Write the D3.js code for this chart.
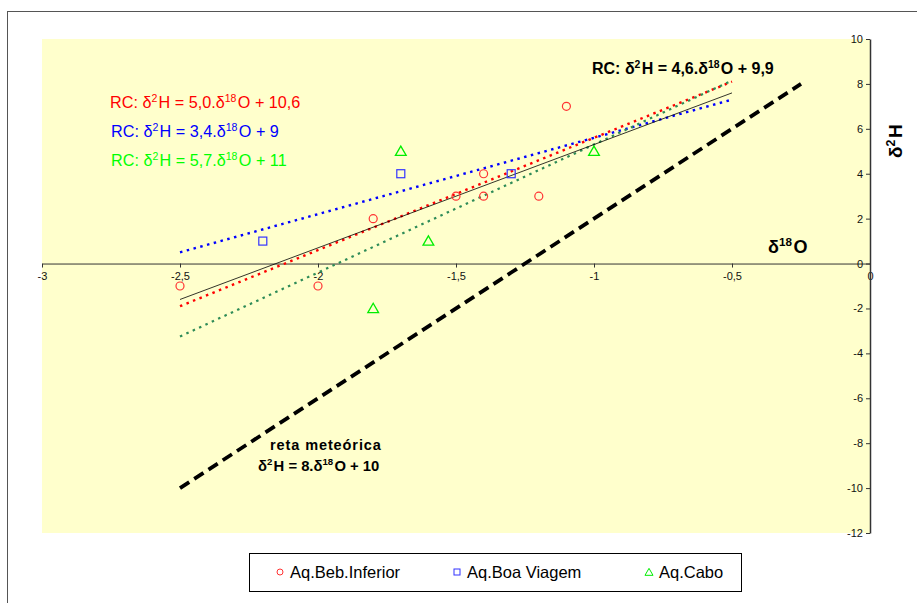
<!DOCTYPE html>
<html>
<head>
<meta charset="utf-8">
<script src="https://cdn.jsdelivr.net/npm/d3@7"></script>
<style>
  body { margin: 0; background: #fff; }
  text { font-family: "Liberation Sans", Arial, sans-serif; }
</style>
</head>
<body>
<div id="chart"></div>
<script>
// data
const beb_x = [-2.5, -2, -1.8, -1.5, -1.4, -1.4, -1.2, -1.1];
const beb_y = [-1, -1, 2, 3, 4, 3, 3, 7];
const boa_x = [-2.2, -1.7, -1.3];
const boa_y = [1, 4, 4];
const cabo_x = [-1.8, -1.7, -1.6, -1];
const cabo_y = [-2, 5, 1, 5];

// trend lines: slope, intercept
const trend_names = ["beb", "boa", "cabo", "all"];
const trend_slopes = [5.0, 3.4, 5.7, 4.6];
const trend_intercepts = [10.6, 9, 11, 9.9];
const trend_range = [-2.5, -0.5];

// meteoric water line
const meteoric_x = [-2.5, -1.8, -1.3, -0.25];
const meteoric_slope = 8;
const meteoric_intercept = 10;

const x_ticks = [-3, -2.5, -2, -1.5, -1, -0.5, 0];
const y_ticks = [10, 8, 6, 4, 2, 0, -2, -4, -6, -8, -10, -12];

const width = 917, height = 603;
const plot = { left: 42, right: 870, top: 39, bottom: 533 };

const svg = d3.select("#chart").append("svg")
    .attr("width", width)
    .attr("height", height);

// outer frame
svg.append("rect")
    .attr("x", 7.5).attr("y", 11.5)
    .attr("width", 920).attr("height", 600)
    .attr("fill", "none")
    .attr("stroke", "#555")
    .attr("stroke-width", 1);

// plot background
svg.append("rect")
    .attr("x", plot.left).attr("y", plot.top)
    .attr("width", plot.right - plot.left)
    .attr("height", plot.bottom - plot.top)
    .attr("fill", "#ffffcc");

const x = d3.scaleLinear().domain([-3, 0]).range([plot.left, plot.right]);
const y = d3.scaleLinear().domain([-12, 10]).range([plot.bottom, plot.top]);

const fmt = d => String(d).replace(".", ",");

// x axis at y = 0
const gx = svg.append("g")
    .attr("transform", "translate(0," + y(0) + ")")
    .call(d3.axisBottom(x).tickValues(x_ticks).tickSize(4).tickSizeOuter(0).tickFormat(fmt));
gx.selectAll("text").attr("font-size", "11px").attr("fill", "#111").attr("dy", "0.9em")
    .style("font-family", "'Liberation Sans', Arial, sans-serif");
gx.select(".domain").attr("stroke", "#333");
gx.selectAll(".tick line").attr("stroke", "#333");

// y axis at x = 0 (right side)
const gy = svg.append("g")
    .attr("transform", "translate(" + x(0) + ",0)")
    .call(d3.axisLeft(y).tickValues(y_ticks).tickSize(4).tickSizeOuter(0).tickFormat(fmt));
gy.selectAll("text").attr("font-size", "11px").attr("fill", "#111")
    .style("font-family", "'Liberation Sans', Arial, sans-serif");
gy.select(".domain").attr("stroke", "#333").attr("stroke-width", 1.5);
gy.selectAll(".tick line").attr("stroke", "#333");

const line = d3.line().x(d => x(d[0])).y(d => y(d[1]));

// meteoric line
svg.append("path")
    .datum(meteoric_x.map(v => [v, meteoric_slope * v + meteoric_intercept]))
    .attr("fill", "none")
    .attr("stroke", "#000")
    .attr("stroke-width", 3.8)
    .attr("stroke-dasharray", "11,6")
    .attr("d", line);

// trend lines
const trend_colors = ["#ff0000", "#0000ff", "#2e8b57", "#000"];
const trend_dash = ["2.5,4.5", "2.5,4.5", "2.5,4.5", null];
const trend_widths = [2.4, 2.4, 2.2, 0.8];
trend_names.forEach((n, i) => {
    svg.append("path")
        .datum(trend_range.map(v => [v, trend_slopes[i] * v + trend_intercepts[i]]))
        .attr("class", "trend-" + n)
        .attr("fill", "none")
        .attr("stroke", trend_colors[i])
        .attr("stroke-width", trend_widths[i])
        .attr("stroke-dasharray", trend_dash[i])
        .attr("d", line);
});

// markers
const zip = (a, b) => a.map((v, i) => [v, b[i]]);

svg.append("g").selectAll("circle")
    .data(zip(beb_x, beb_y))
    .enter().append("circle")
    .attr("cx", d => x(d[0])).attr("cy", d => y(d[1]))
    .attr("r", 4)
    .attr("fill", "none")
    .attr("stroke", "#ff3333")
    .attr("stroke-width", 1.2);

svg.append("g").selectAll("rect")
    .data(zip(boa_x, boa_y))
    .enter().append("rect")
    .attr("x", d => x(d[0]) - 4).attr("y", d => y(d[1]) - 4)
    .attr("width", 8).attr("height", 8)
    .attr("fill", "none")
    .attr("stroke", "#3333ff")
    .attr("stroke-width", 1.2);

const tri = d3.symbol().type(d3.symbolTriangle).size(50);
svg.append("g").selectAll("path")
    .data(zip(cabo_x, cabo_y))
    .enter().append("path")
    .attr("transform", d => "translate(" + x(d[0]) + "," + (y(d[1]) + 1) + ")")
    .attr("d", tri)
    .attr("fill", "none")
    .attr("stroke", "#00ee00")
    .attr("stroke-width", 1.3);

// equation labels, superscripts given as {up: "..."}
function equation(g, xPos, yPos, parts, opts) {
    const t = g.append("text")
        .attr("x", xPos).attr("y", yPos)
        .attr("font-size", opts.size)
        .attr("font-weight", opts.weight)
        .attr("fill", opts.color);
    parts.forEach(p => {
        if (typeof p === "object") {
            t.append("tspan").attr("font-size", opts.size * 0.65).attr("dy", -opts.size * 0.38).text(p.up);
            t.append("tspan").attr("dy", opts.size * 0.38).text("\u200a");
        } else {
            t.append("tspan").text(p);
        }
    });
    return t;
}

equation(svg, 110, 108, ["RC:  δ", {up: "2"}, "H = 5,0.δ", {up: "18"}, "O + 10,6"],
    {size: 16.2, weight: "normal", color: "#ff0000"});
equation(svg, 111, 137, ["RC:  δ", {up: "2"}, "H = 3,4.δ", {up: "18"}, "O + 9"],
    {size: 16.2, weight: "normal", color: "#0000ff"});
equation(svg, 111, 166, ["RC:  δ", {up: "2"}, "H = 5,7.δ", {up: "18"}, "O + 11"],
    {size: 16.2, weight: "normal", color: "#00ff00"});
equation(svg, 592, 74, ["RC:  δ", {up: "2"}, "H = 4,6.δ", {up: "18"}, "O + 9,9"],
    {size: 16, weight: "bold", color: "#000"});

svg.append("text")
    .attr("x", 270).attr("y", 450)
    .attr("font-size", 14.5).attr("font-weight", "bold")
    .attr("letter-spacing", 0.9)
    .text("reta meteórica");
equation(svg, 258, 471, ["δ", {up: "2"}, "H = 8.δ", {up: "18"}, "O + 10"],
    {size: 14.8, weight: "bold", color: "#000"});

// axis titles
equation(svg, 768, 253, ["δ", {up: "18"}, "O"], {size: 18, weight: "bold", color: "#000"});
equation(svg, 0, 0, ["δ", {up: "2"}, "H"], {size: 19, weight: "bold", color: "#000"})
    .attr("transform", "translate(902,158) rotate(-90)");

// legend
const legend_names = ["Aq.Beb.Inferior", "Aq.Boa Viagem", "Aq.Cabo"];
const lg = svg.append("g");
lg.append("rect")
    .attr("x", 249.5).attr("y", 553.5)
    .attr("width", 492).attr("height", 38)
    .attr("fill", "#fff")
    .attr("stroke", "#000")
    .attr("stroke-width", 1);
const legend_x = [280, 457, 649];
lg.append("circle").attr("cx", legend_x[0]).attr("cy", 572).attr("r", 3)
    .attr("fill", "none").attr("stroke", "#ff3333");
lg.append("rect").attr("x", legend_x[1] - 3).attr("y", 569).attr("width", 6).attr("height", 6)
    .attr("fill", "none").attr("stroke", "#3333ff");
lg.append("path").attr("transform", "translate(" + legend_x[2] + ",573)")
    .attr("d", d3.symbol().type(d3.symbolTriangle).size(28))
    .attr("fill", "none").attr("stroke", "#00ee00");
lg.selectAll(".lt").data(legend_names).enter().append("text")
    .attr("x", (d, i) => legend_x[i] + 10)
    .attr("y", 578)
    .attr("font-size", 16.5)
    .text(d => d);
</script>
</body>
</html>
